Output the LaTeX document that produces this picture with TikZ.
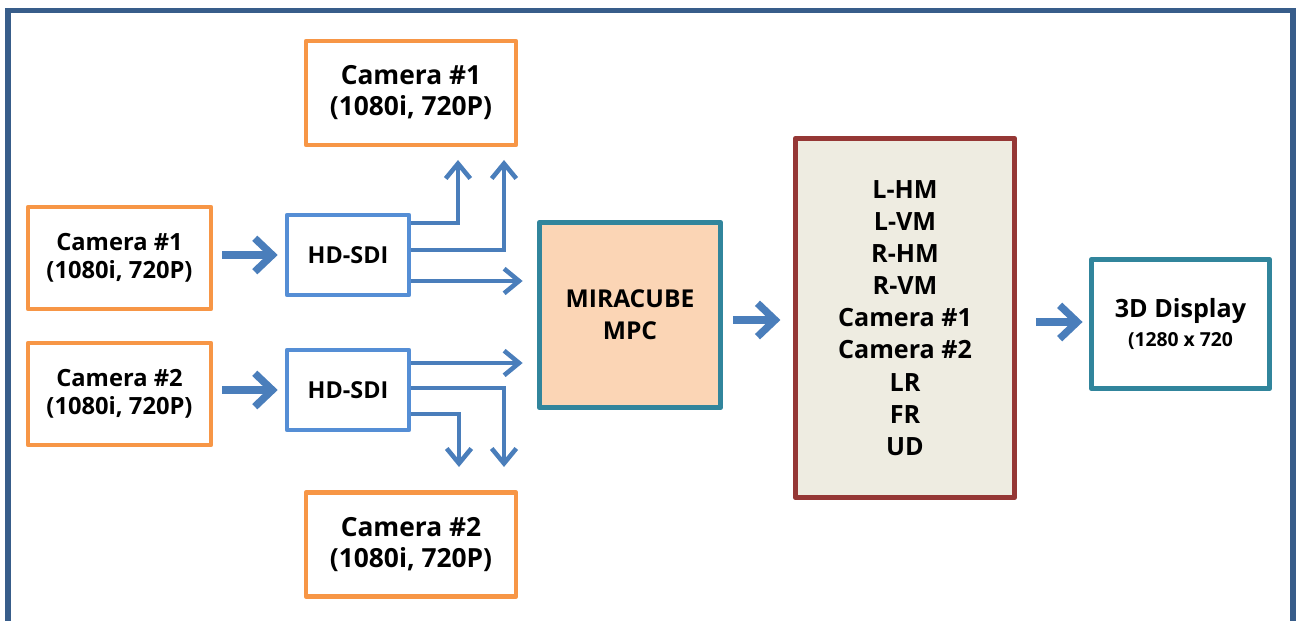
\documentclass[tikz,border=0pt]{standalone}
\usepackage{fontspec}
\setmainfont{Open Sans}
\usetikzlibrary{arrows.meta}
\definecolor{camorange}{HTML}{F79646}
\definecolor{sdiblue}{HTML}{558ED5}
\definecolor{mpcteal}{HTML}{31859C}
\definecolor{mpcfill}{HTML}{FBD5B5}
\definecolor{selred}{HTML}{953735}
\definecolor{selfill}{HTML}{EEECE1}
\definecolor{arrowblue}{HTML}{4A7EBB}
\definecolor{frameblue}{HTML}{385D8A}
\begin{document}
\begin{tikzpicture}[x=0.02cm,y=-0.02cm,
    box/.style={draw,line width=2.6pt,line join=round,align=center,inner sep=0pt},
    cambig/.style={box,draw=camorange,minimum width=4.2cm,minimum height=2.08cm,font=\fontsize{15}{17.6}\selectfont\bfseries},
    camsmall/.style={box,draw=camorange,minimum width=3.66cm,minimum height=2.04cm,font=\fontsize{13.5}{16}\selectfont\bfseries},
    sdibox/.style={box,draw=sdiblue,minimum width=2.44cm,minimum height=1.6cm,font=\fontsize{13.3}{16}\selectfont\bfseries},
    bigarrow/.style={draw=arrowblue,line width=4.2pt,-{Straight Barb[length=10pt,width=19pt]}},
    branch/.style={draw=arrowblue,line width=2.6pt,-{Straight Barb[length=8.5pt,width=14pt]}}]
  \useasboundingbox (0,0) rectangle (1298,621);
  \draw[frameblue,line width=3pt] (8,10.5) rectangle (1293,660);
  \node[cambig] (camT) at (411,93) {Camera \#1\\(1080i, 720P)};
  \node[camsmall] (camA) at (119.5,258) {Camera \#1\\(1080i, 720P)};
  \node[camsmall] (camB) at (119.5,394) {Camera \#2\\(1080i, 720P)};
  \node[cambig] (camD) at (411,544.5) {Camera \#2\\(1080i, 720P)};
  \node[sdibox] (hdA) at (348,255) {HD-SDI};
  \node[sdibox] (hdB) at (348,390) {HD-SDI};
  \node[box,draw=mpcteal,fill=mpcfill,line width=3.2pt,minimum width=3.62cm,minimum height=3.7cm,
    font=\fontsize{14}{18}\selectfont\bfseries] (mpc) at (630,315) {MIRACUBE\\MPC};
  \node[box,draw=selred,fill=selfill,line width=3.2pt,minimum width=4.38cm,minimum height=7.18cm,
    font=\fontsize{14.3}{18.3}\selectfont\bfseries] (sel) at (905,318)
    {L-HM\\L-VM\\R-HM\\R-VM\\Camera \#1\\Camera \#2\\LR\\FR\\UD};
  \node[box,draw=mpcteal,line width=3.2pt,minimum width=3.56cm,minimum height=2.58cm,
    font=\fontsize{14.3}{17}\selectfont\bfseries] (disp) at (1180.5,324)
    {3D Display\\{\fontsize{11}{13}\selectfont(1280 x 720}};
  \coordinate (upA) at (458,160);
  \coordinate (upB) at (504,160);
  \coordinate (dnA) at (459,467);
  \coordinate (dnB) at (504,467);
  \draw[bigarrow,shorten <=5pt,shorten >=4pt] (camA.east |- hdA.west) -- (hdA.west);
  \draw[bigarrow,shorten <=5pt,shorten >=4pt] (camB.east |- hdB.west) -- (hdB.west);
  \draw[branch] (hdA.east |- 0,223) -| (upA);
  \draw[branch] (hdA.east |- 0,250) -| (upB);
  \draw[branch,shorten >=8pt] (hdA.east |- 0,281) -- (mpc.west |- 0,281);
  \draw[branch,shorten >=8pt] (hdB.east |- 0,363) -- (mpc.west |- 0,363);
  \draw[branch] (hdB.east |- 0,388) -| (dnB);
  \draw[branch] (hdB.east |- 0,414) -| (dnA);
  \draw[bigarrow,shorten <=5.5pt,shorten >=7pt] (mpc.east |- 0,320) -- (sel.west |- 0,320);
  \draw[bigarrow,shorten <=10.5pt,shorten >=3.5pt] (sel.east |- 0,322) -- (disp.west |- 0,322);
\end{tikzpicture}
\end{document}
